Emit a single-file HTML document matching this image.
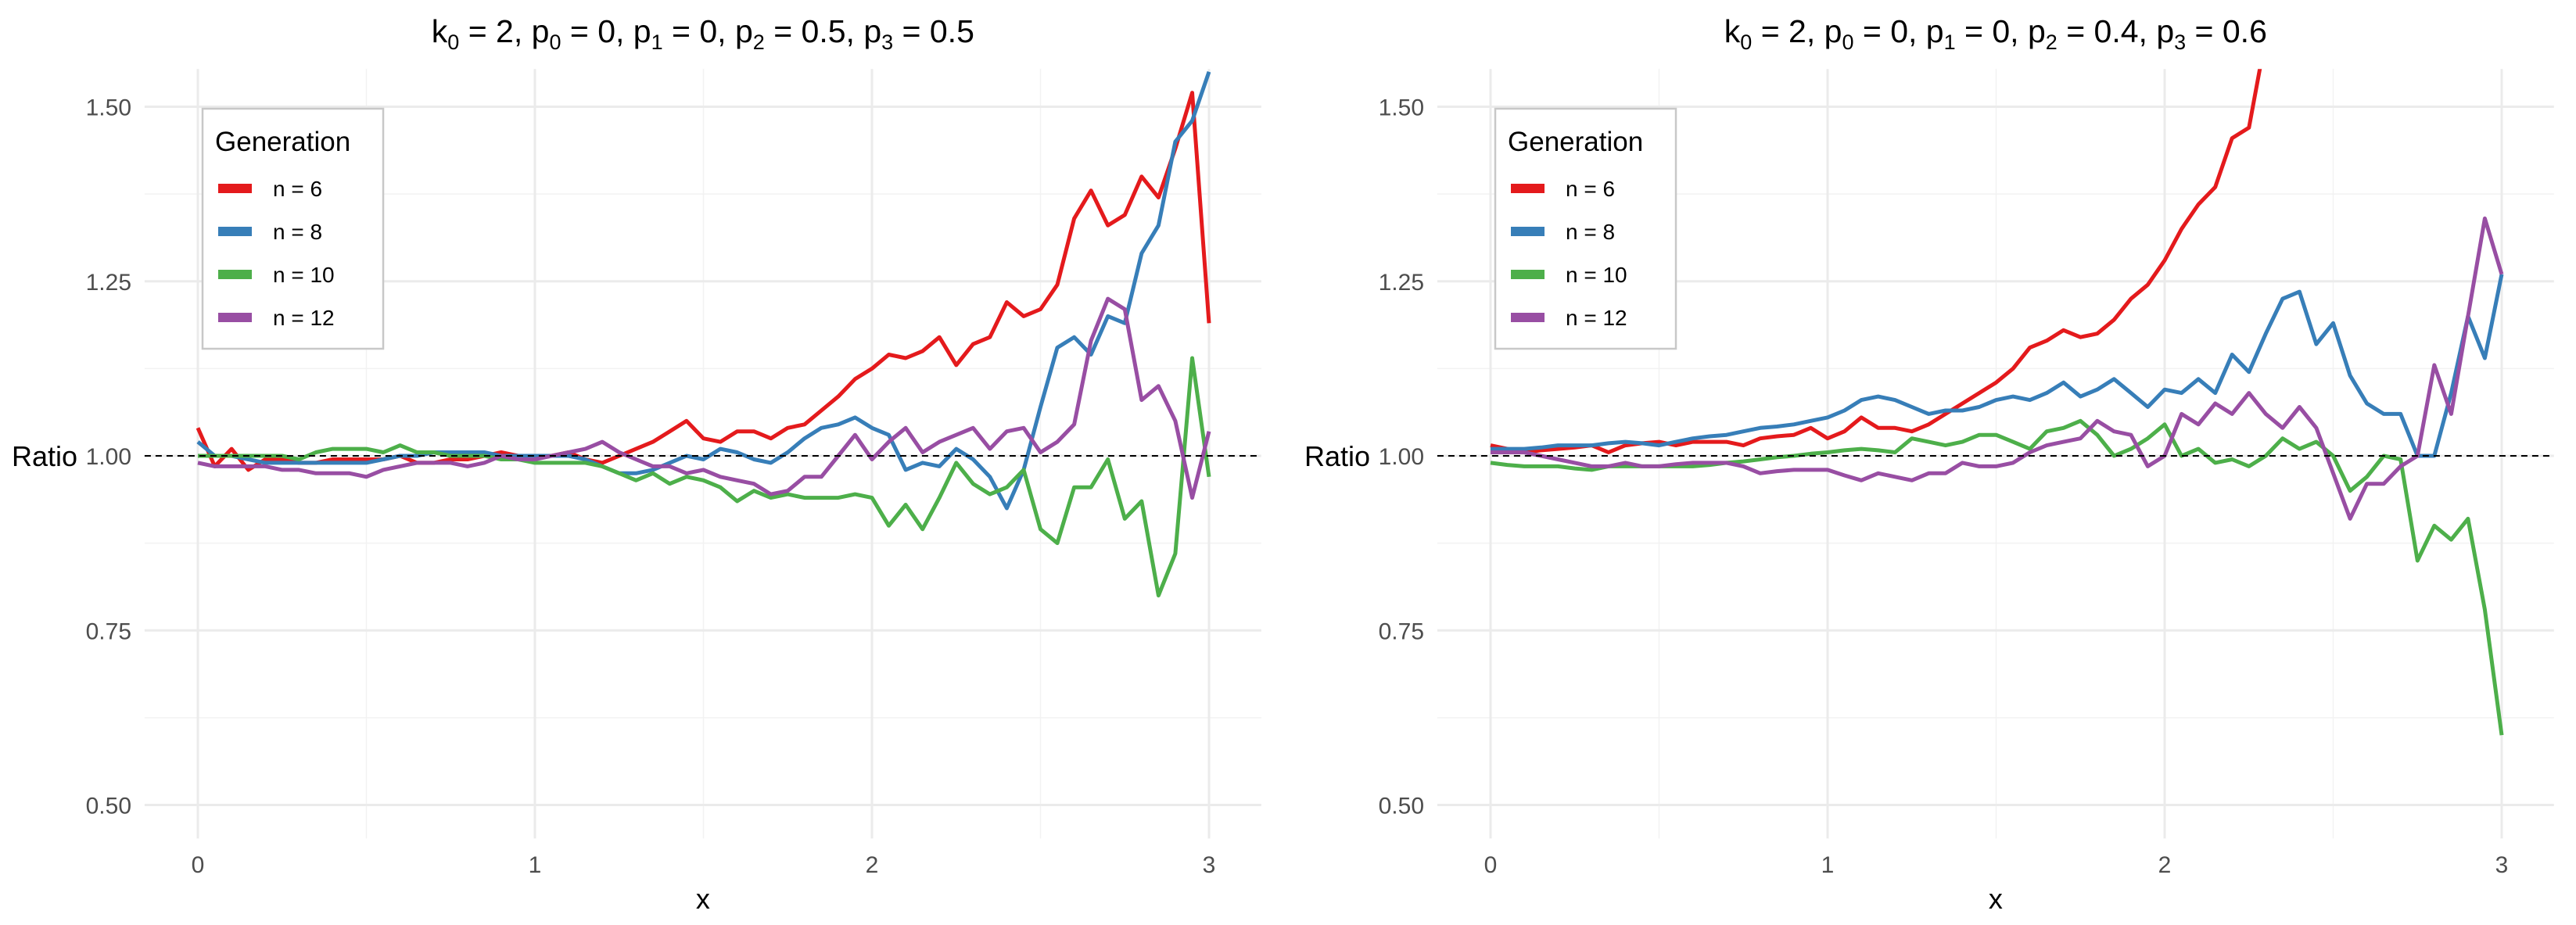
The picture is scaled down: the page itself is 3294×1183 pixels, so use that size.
<!DOCTYPE html>
<html><head><meta charset="utf-8"><style>
html,body{margin:0;padding:0;background:#fff;}
svg{display:block;font-family:"Liberation Sans",sans-serif;}
</style></head><body>
<svg id="chart" width="3294" height="1183" viewBox="0 0 3294 1183" xmlns="http://www.w3.org/2000/svg"></svg>
<script>
const xs = [0,0.05,0.1,0.15,0.2,0.25,0.3,0.35,0.4,0.45,0.5,0.55,0.6,0.65,0.7,0.75,0.8,0.85,0.9,0.95,1.0,1.05,1.1,1.15,1.2,1.25,1.3,1.35,1.4,1.45,1.5,1.55,1.6,1.65,1.7,1.75,1.8,1.85,1.9,1.95,2.0,2.05,2.1,2.15,2.2,2.25,2.3,2.35,2.4,2.45,2.5,2.55,2.6,2.65,2.7,2.75,2.8,2.85,2.9,2.95,3.0];
const seriesNames = ["n = 6","n = 8","n = 10","n = 12"];
const colors = ["#E41A1C","#377EB8","#4DAF4A","#984EA3"];
const yTicks = [0.5,0.75,1.0,1.25,1.5];
const yTickLabels = ["0.50","0.75","1.00","1.25","1.50"];
const xTicks = [0,1,2,3];
const titlesA = ["0.5","0.5"];
const titlesB = ["0.4","0.6"];
const leftN6 = [1.04,0.985,1.01,0.98,0.995,0.995,0.99,0.99,0.995,0.995,0.995,0.995,1.0,0.99,0.99,0.995,0.995,1.0,1.005,1.0,1.0,1.0,1.005,0.995,0.99,1.0,1.01,1.02,1.035,1.05,1.025,1.02,1.035,1.035,1.025,1.04,1.045,1.065,1.085,1.11,1.125,1.145,1.14,1.15,1.17,1.13,1.16,1.17,1.22,1.2,1.21,1.245,1.34,1.38,1.33,1.345,1.4,1.37,1.44,1.52,1.19];
const leftN8 = [1.02,1.0,1.0,0.995,0.99,0.99,0.99,0.99,0.99,0.99,0.99,0.995,1.0,1.0,1.005,1.005,1.005,1.005,1.0,1.0,1.0,1.0,1.0,0.995,0.985,0.975,0.975,0.98,0.99,1.0,0.995,1.01,1.005,0.995,0.99,1.005,1.025,1.04,1.045,1.055,1.04,1.03,0.98,0.99,0.985,1.01,0.995,0.97,0.925,0.98,1.07,1.155,1.17,1.145,1.2,1.19,1.29,1.33,1.45,1.48,1.55];
const leftN10 = [1.0,1.0,1.0,1.0,1.0,1.0,0.995,1.005,1.01,1.01,1.01,1.005,1.015,1.005,1.005,1.0,1.0,1.0,0.995,0.995,0.99,0.99,0.99,0.99,0.985,0.975,0.965,0.975,0.96,0.97,0.965,0.955,0.935,0.95,0.94,0.945,0.94,0.94,0.94,0.945,0.94,0.9,0.93,0.895,0.94,0.99,0.96,0.945,0.955,0.98,0.895,0.875,0.955,0.955,0.995,0.91,0.935,0.8,0.86,1.14,0.97];
const leftN12 = [0.99,0.985,0.985,0.985,0.985,0.98,0.98,0.975,0.975,0.975,0.97,0.98,0.985,0.99,0.99,0.99,0.985,0.99,1.0,0.995,0.995,1.0,1.005,1.01,1.02,1.005,0.995,0.985,0.985,0.975,0.98,0.97,0.965,0.96,0.945,0.95,0.97,0.97,1.0,1.03,0.995,1.02,1.04,1.005,1.02,1.03,1.04,1.01,1.035,1.04,1.005,1.02,1.045,1.165,1.225,1.21,1.08,1.1,1.05,0.94,1.035];
const rightN6 = [1.015,1.01,1.005,1.008,1.01,1.012,1.015,1.005,1.015,1.018,1.02,1.015,1.02,1.02,1.02,1.015,1.025,1.028,1.03,1.04,1.025,1.035,1.055,1.04,1.04,1.035,1.045,1.06,1.075,1.09,1.105,1.125,1.155,1.165,1.18,1.17,1.175,1.195,1.225,1.245,1.28,1.325,1.36,1.385,1.455,1.47,1.6,1.7,1.8,1.9,2.0,2.1,2.2,2.3,2.4,2.5,2.6,2.7,2.8,2.9,3.0];
const rightN8 = [1.01,1.01,1.01,1.012,1.015,1.015,1.015,1.018,1.02,1.018,1.015,1.02,1.025,1.028,1.03,1.035,1.04,1.042,1.045,1.05,1.055,1.065,1.08,1.085,1.08,1.07,1.06,1.065,1.065,1.07,1.08,1.085,1.08,1.09,1.105,1.085,1.095,1.11,1.09,1.07,1.095,1.09,1.11,1.09,1.145,1.12,1.175,1.225,1.235,1.16,1.19,1.115,1.075,1.06,1.06,1.0,1.0,1.09,1.2,1.14,1.26];
const rightN10 = [0.99,0.987,0.985,0.985,0.985,0.982,0.98,0.985,0.985,0.985,0.985,0.985,0.985,0.987,0.99,0.992,0.995,0.998,1.0,1.003,1.005,1.008,1.01,1.008,1.005,1.025,1.02,1.015,1.02,1.03,1.03,1.02,1.01,1.035,1.04,1.05,1.03,1.0,1.01,1.025,1.045,1.0,1.01,0.99,0.995,0.985,1.0,1.025,1.01,1.02,1.0,0.95,0.97,1.0,0.995,0.85,0.9,0.88,0.91,0.78,0.6];
const rightN12 = [1.005,1.005,1.005,1.0,0.995,0.99,0.985,0.985,0.99,0.985,0.985,0.988,0.99,0.99,0.99,0.985,0.975,0.978,0.98,0.98,0.98,0.972,0.965,0.975,0.97,0.965,0.975,0.975,0.99,0.985,0.985,0.99,1.005,1.015,1.02,1.025,1.05,1.035,1.03,0.985,1.0,1.06,1.045,1.075,1.06,1.09,1.06,1.04,1.07,1.04,0.975,0.91,0.96,0.96,0.985,1.0,1.13,1.06,1.2,1.34,1.26];

const NS="http://www.w3.org/2000/svg";
const svg=document.getElementById('chart');
function mk(tag,attrs,parent){const e=document.createElementNS(NS,tag);for(const k in attrs)e.setAttribute(k,attrs[k]);(parent||svg).appendChild(e);return e;}

function panel(idx, ox, data, pvals){
  const x0=ox+253, pxPerX=431, y1=583, pxPerY=893;
  const X=v=>x0+v*pxPerX, Y=v=>y1-(v-1)*pxPerY;
  const left=X(-0.158), right=X(3.155), top=Y(1.554), bottom=Y(0.452);
  const g=mk('g',{});
  
  
  [0.5,1.5,2.5].forEach(v=>mk('line',{x1:X(v),x2:X(v),y1:top,y2:bottom,stroke:'#f2f2f2','stroke-width':1.5},g));
  [0.625,0.875,1.125,1.375].forEach(v=>mk('line',{x1:left,x2:right,y1:Y(v),y2:Y(v),stroke:'#f2f2f2','stroke-width':1.5},g));
  xTicks.forEach(v=>mk('line',{x1:X(v),x2:X(v),y1:top,y2:bottom,stroke:'#ebebeb','stroke-width':3},g));
  yTicks.forEach(v=>mk('line',{x1:left,x2:right,y1:Y(v),y2:Y(v),stroke:'#ebebeb','stroke-width':3},g));
  yTicks.forEach((v,i)=>{const t=mk('text',{x:x0-85,y:Y(v)+11,'text-anchor':'end','font-size':30,fill:'#4d4d4d'},g);t.textContent=yTickLabels[i];
    
    });
  xTicks.forEach(v=>{const t=mk('text',{x:X(v),y:1116,'text-anchor':'middle','font-size':30,fill:'#4d4d4d'},g);t.textContent=String(v);
    
    });
  const xl=mk('text',{x:(left+right)/2,y:1162,'text-anchor':'middle','font-size':36,fill:'#000'},g);xl.textContent='x';
  
  
  const yl=mk('text',{x:ox+15,y:596,'font-size':36,fill:'#000'},g);yl.textContent='Ratio';
  
  
  const tt=mk('text',{x:(left+right)/2,y:54,'text-anchor':'middle','font-size':41,fill:'#000'},g);
  
  
  const parts=[['k','0',' = 2, '],['p','0',' = 0, '],['p','1',' = 0, '],['p','2',' = '+pvals[0]+', '],['p','3',' = '+pvals[1]]];
  parts.forEach(p=>{mk('tspan',{},tt).textContent=p[0];mk('tspan',{dy:9,'font-size':27},tt).textContent=p[1];mk('tspan',{dy:-9},tt).textContent=p[2];});
  const cp=mk('clipPath',{id:'clip'+idx},g);mk('rect',{x:left,y:top,width:right-left,height:bottom-top},cp);
  data.forEach((s,si)=>{
    const d=s.map((v,i)=>(i?'L':'M')+X(xs[i]).toFixed(1)+','+Y(v).toFixed(1)).join(' ');
    const p=mk('path',{d:d,fill:'none',stroke:colors[si],'stroke-width':5,'stroke-linejoin':'round','clip-path':'url(#clip'+idx+')'},g);
    
    
  });
  const ref=mk('line',{x1:left,x2:right,y1:Y(1),y2:Y(1),stroke:'#000','stroke-width':2,'stroke-dasharray':'8,6'},g);
  
  
  const lg=mk('g',{},g);
  
  
  mk('rect',{x:ox+259,y:139,width:231,height:307,fill:'#fff',stroke:'#c8c8c8','stroke-width':2.5},lg);
  const lt=mk('text',{x:ox+275,y:193,'font-size':35,fill:'#000'},lg);lt.textContent='Generation';
  seriesNames.forEach((n,i)=>{
    const yy=241+i*55;
    const e=mk('g',{},lg);
    
    
    mk('rect',{x:ox+279,y:yy-6,width:43,height:12,fill:colors[i]},e);
    const t=mk('text',{x:ox+349,y:yy+10,'font-size':28,fill:'#000'},e);t.textContent=n;
  });
}
panel(0,0,[leftN6,leftN8,leftN10,leftN12],titlesA);
panel(1,1653,[rightN6,rightN8,rightN10,rightN12],titlesB);
</script>
</body></html>
